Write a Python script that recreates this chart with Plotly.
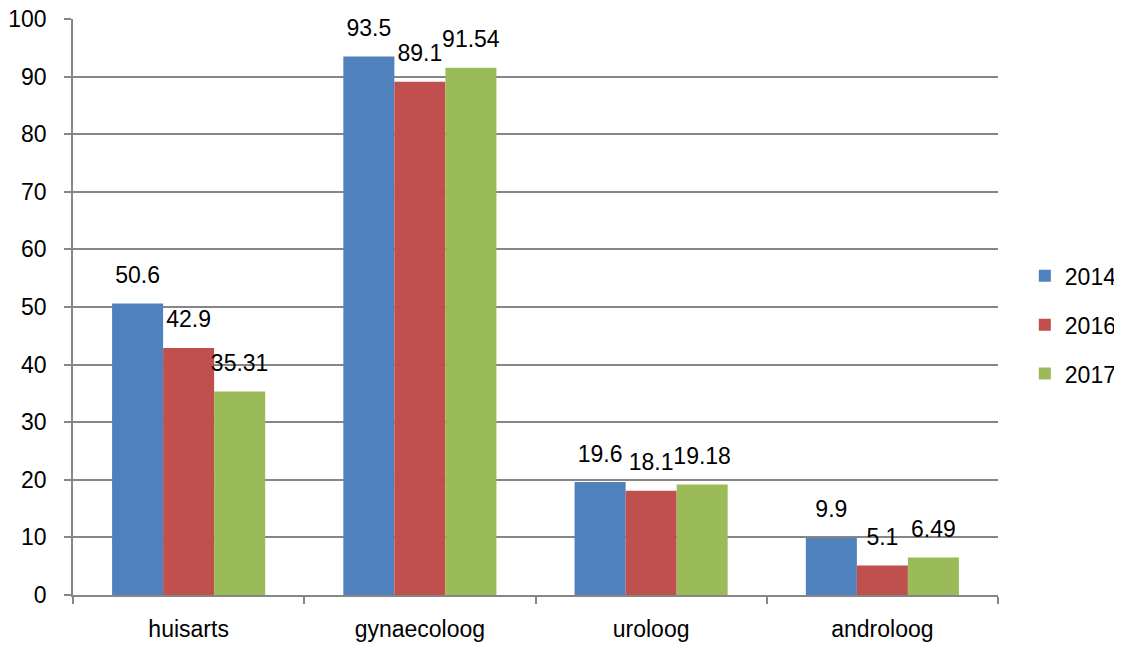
import plotly.graph_objects as go

categories = ["huisarts", "gynaecoloog", "uroloog", "androloog"]
series_names = ["2014", "2016", "2017"]
values_2014 = [50.6, 93.5, 19.6, 9.9]
values_2016 = [42.9, 89.1, 18.1, 5.1]
values_2017 = [35.31, 91.54, 19.18, 6.49]
labels_2014 = ["50.6", "93.5", "19.6", "9.9"]
labels_2016 = ["42.9", "89.1", "18.1", "5.1"]
labels_2017 = ["35.31", "91.54", "19.18", "6.49"]
colors = ["#4F81BD", "#C0504D", "#9BBB59"]

FONT = "Liberation Sans"
FS = 23
GAP = 0.338
fig = go.Figure()
all_vals = [values_2014, values_2016, values_2017]
all_labs = [labels_2014, labels_2016, labels_2017]
for i, (name, vals) in enumerate(zip(series_names, all_vals)):
    fig.add_trace(go.Bar(
        x=categories, y=vals, name=name,
        marker=dict(color=colors[i], line=dict(width=0)),
        legendgroup=name, offsetgroup=name,
    ))
for i, (name, vals, labs) in enumerate(zip(series_names, all_vals, all_labs)):
    fig.add_trace(go.Scatter(
        x=categories, y=vals, text=labs, mode="markers+text",
        textposition="top center", textfont=dict(family=FONT, size=FS, color="black"),
        marker=dict(size=22, opacity=0), showlegend=False, hoverinfo="skip",
        cliponaxis=False, offsetgroup=name,
    ))

# page body has an 8px margin, so the figure is sized to fit the window from that offset
fig.update_layout(
    width=1114, height=638,
    margin=dict(l=65, r=124, t=11, b=51, autoexpand=False),
    paper_bgcolor="white", plot_bgcolor="white",
    barmode="group", bargap=GAP, bargroupgap=0,
    scattermode="group", scattergap=GAP,
    font=dict(family=FONT, size=FS, color="black"),
    showlegend=True,
    legend=dict(x=1.029, xanchor="left", y=0.469, yanchor="middle",
                font=dict(family=FONT, size=FS), tracegroupgap=16,
                itemwidth=30),
)
fig.update_xaxes(
    automargin=False,
    showline=True, linecolor="#868686", linewidth=1.5,
    ticks="outside", tickson="boundaries", ticklen=7, tickcolor="#868686", tickwidth=1.5,
    tickfont=dict(family=FONT, size=FS), ticklabelstandoff=13,
    ticklabeloverflow="allow",
)
fig.update_yaxes(
    automargin=False,
    range=[0, 100], dtick=10, showline=True, linecolor="#868686", linewidth=1.5,
    ticks="outside", ticklen=7, tickcolor="#868686", tickwidth=1.5,
    showgrid=True, gridcolor="#868686", gridwidth=1.5, zeroline=False,
    tickfont=dict(family=FONT, size=FS), ticklabelstandoff=13,
    ticklabeloverflow="allow",
)
fig.write_html("out.html")
